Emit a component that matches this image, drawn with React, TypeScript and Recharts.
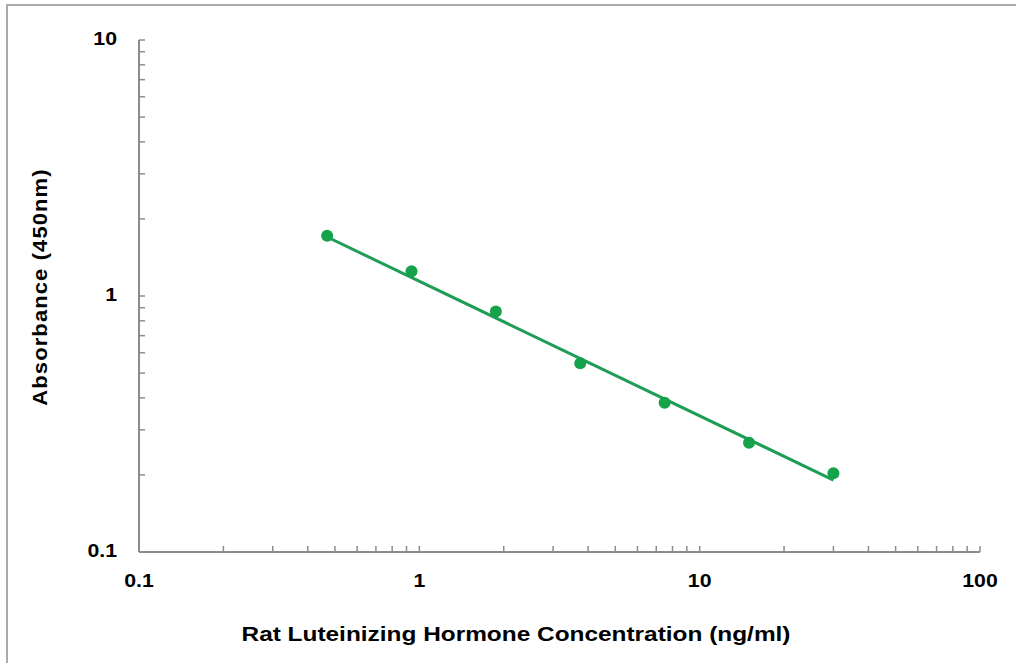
import { ComposedChart, Scatter, Line, XAxis, YAxis } from "recharts";

// standard concentrations (ng/ml) and mean absorbance
const concentrations = [0.469, 0.938, 1.875, 3.75, 7.5, 15, 30];
const absorbance = [1.72, 1.25, 0.87, 0.546, 0.383, 0.267, 0.203];

// end points of the fitted line
const fitX = [0.469, 30];
const fitY = [1.7, 0.191];

const xTicks = [
  0.1, 0.2, 0.3, 0.4, 0.5, 0.6, 0.7, 0.8, 0.9,
  1, 2, 3, 4, 5, 6, 7, 8, 9,
  10, 20, 30, 40, 50, 60, 70, 80, 90, 100,
];
const yTicks = [
  0.1, 0.2, 0.3, 0.4, 0.5, 0.6, 0.7, 0.8, 0.9,
  1, 2, 3, 4, 5, 6, 7, 8, 9, 10,
];
const majorLabels = [0.1, 1, 10, 100];

const points = concentrations.map((c, i) => ({ x: c, y: absorbance[i] }));
const fit = fitX.map((x, i) => ({ x, y: fitY[i] }));

const AXIS = "#8c8c8c";
const FONT = "'Liberation Sans', Arial, sans-serif";

const XTick = (props: any) => {
  const { x, y, payload } = props;
  const v = payload.value;
  const major = majorLabels.includes(v);
  return (
    <g>
      <line x1={x} y1={y} x2={x} y2={y - 6} stroke={AXIS} strokeWidth={1.5} />
      {major && (
        <text
          x={x}
          y={y + 35}
          textAnchor="middle"
          fontSize={19}
          fontWeight="bold"
          fill="#000"
          fontFamily={FONT}
          transform={`translate(${x} 0) scale(1.12 1) translate(${-x} 0)`}
        >
          {v}
        </text>
      )}
    </g>
  );
};

const YTick = (props: any) => {
  const { x, y, payload } = props;
  const v = payload.value;
  const major = majorLabels.includes(v);
  const tx = x - 22;
  return (
    <g>
      <line x1={x} y1={y} x2={x + 6} y2={y} stroke={AXIS} strokeWidth={1.5} />
      {major && (
        <text
          x={tx}
          y={y + 5}
          textAnchor="end"
          fontSize={19}
          fontWeight="bold"
          fill="#000"
          fontFamily={FONT}
          transform={`translate(${tx} 0) scale(1.12 1) translate(${-tx} 0)`}
        >
          {v}
        </text>
      )}
    </g>
  );
};

export default function App() {
  return (
    <div style={{ position: "absolute", left: 0, top: 0, width: 1016, height: 663, background: "#fff", overflow: "hidden" }}>
      <div
        style={{
          position: "absolute",
          left: 6,
          top: 4,
          width: 1100,
          height: 800,
          border: "2px solid #aaaaaa",
        }}
      />
      <ComposedChart
        width={1016}
        height={663}
        margin={{ top: 40, right: 36, bottom: 51, left: 79 }}
        style={{ position: "absolute", left: 0, top: 0 }}
      >
        <XAxis
          type="number"
          dataKey="x"
          scale="log"
          domain={[0.1, 100]}
          ticks={xTicks}
          interval={0}
          allowDataOverflow
          tickLine={false}
          tickSize={0}
          tickMargin={0}
          tick={<XTick />}
          axisLine={{ stroke: AXIS, strokeWidth: 2 }}
          height={60}
        />
        <YAxis
          type="number"
          dataKey="y"
          scale="log"
          domain={[0.1, 10]}
          ticks={yTicks}
          interval={0}
          allowDataOverflow
          tickLine={false}
          tickSize={0}
          tickMargin={0}
          tick={<YTick />}
          axisLine={{ stroke: AXIS, strokeWidth: 2 }}
          width={60}
        />
        <Line
          data={fit}
          dataKey="y"
          type="linear"
          stroke="#1f9d55"
          strokeWidth={3}
          dot={false}
          activeDot={false}
          isAnimationActive={false}
        />
        <Scatter
          data={points}
          fill="#14a34a"
          shape={(p: any) => <circle cx={p.cx} cy={p.cy} r={6} fill="#14a34a" />}
          isAnimationActive={false}
        />
      </ComposedChart>
      <div
        style={{
          position: "absolute",
          left: 516,
          top: 634,
          transform: "translate(-50%, -50%) scaleX(1.22)",
          whiteSpace: "nowrap",
          fontFamily: FONT,
          fontWeight: "bold",
          fontSize: 20,
          color: "#000",
        }}
      >
        Rat Luteinizing Hormone Concentration (ng/ml)
      </div>
      <div
        style={{
          position: "absolute",
          left: 40,
          top: 287,
          transform: "translate(-50%, -50%) rotate(-90deg) scaleX(1.1)",
          whiteSpace: "nowrap",
          fontFamily: FONT,
          fontWeight: "bold",
          fontSize: 20,
          letterSpacing: 1,
          color: "#000",
        }}
      >
        Absorbance (450nm)
      </div>
    </div>
  );
}
